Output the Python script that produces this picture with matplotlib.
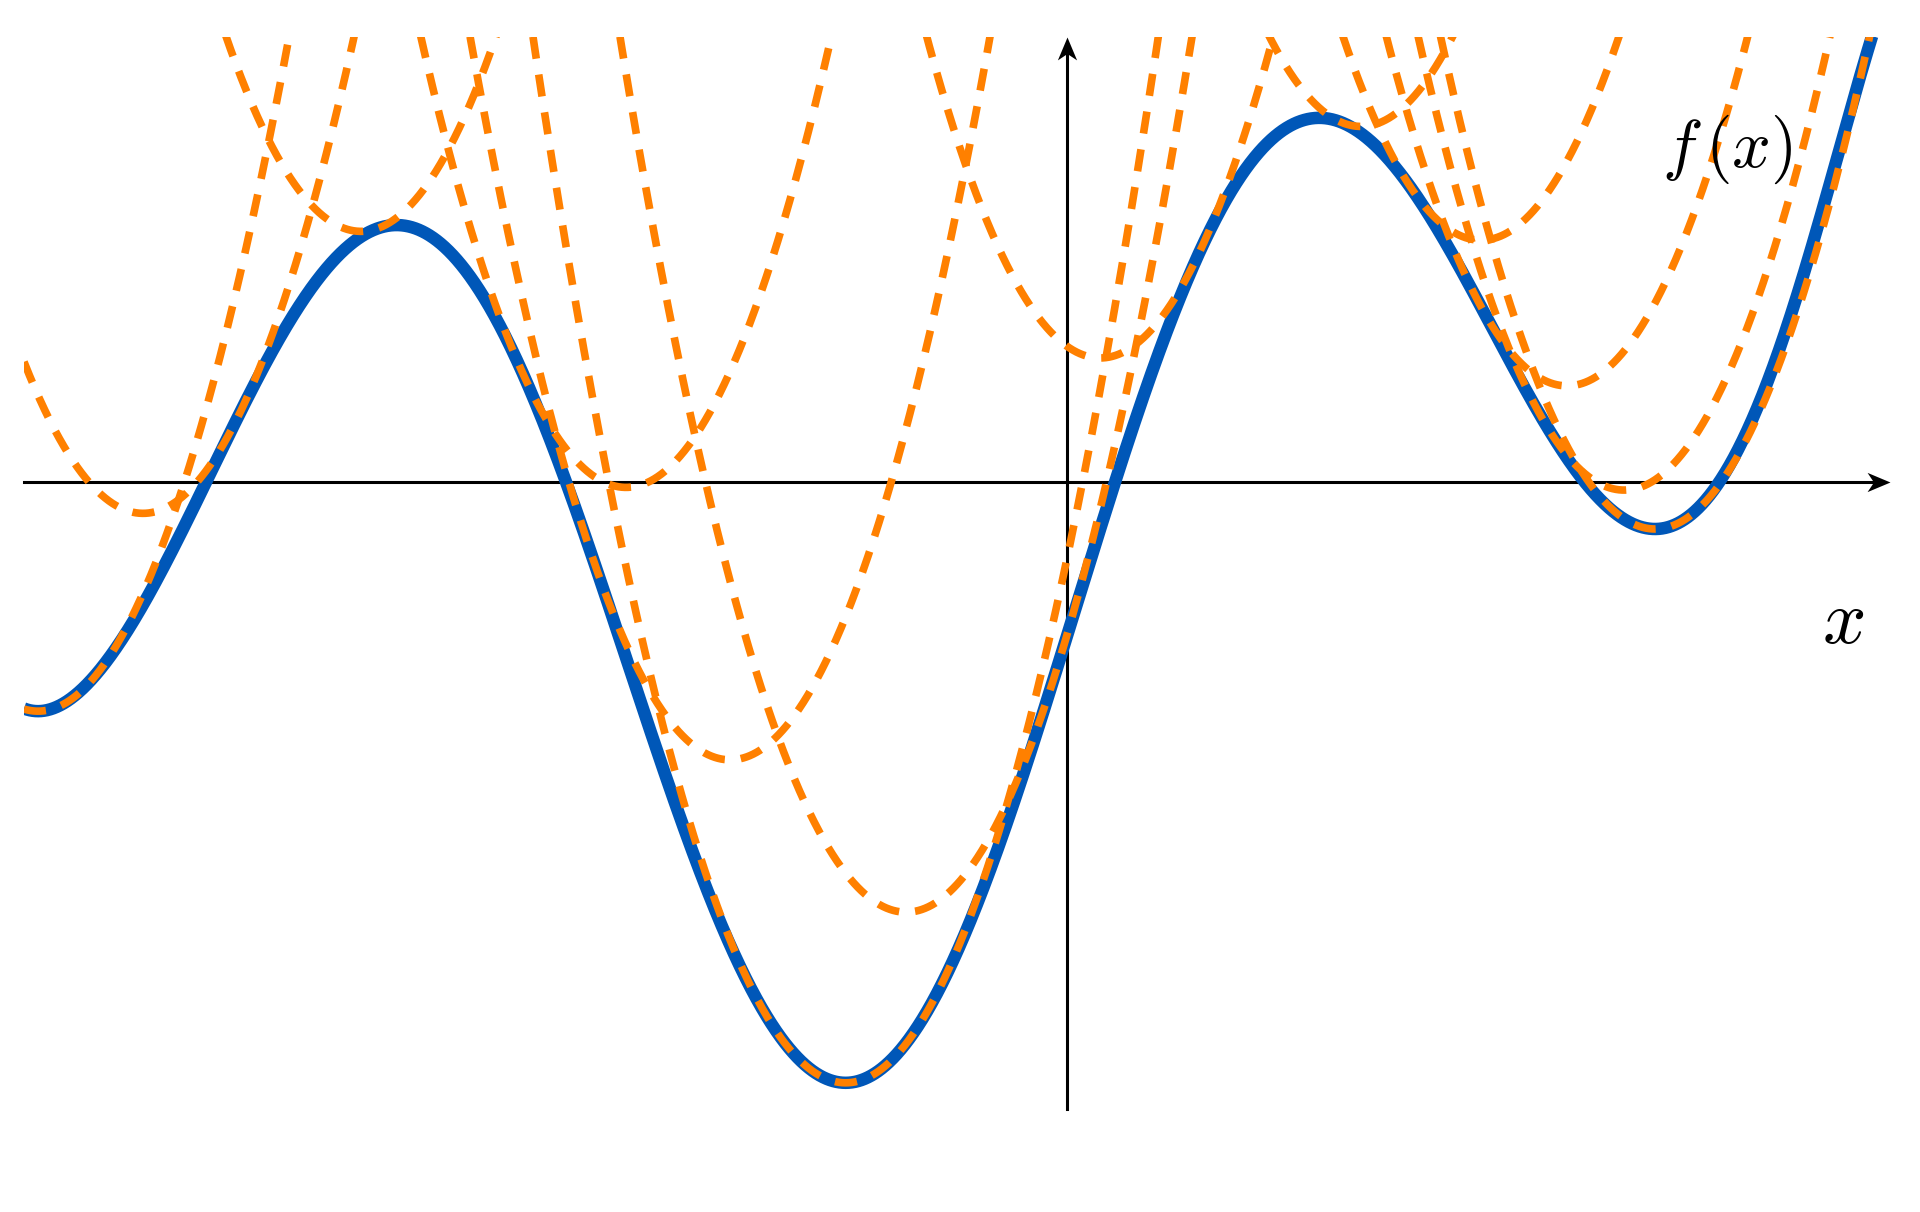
import numpy as np
import matplotlib.pyplot as plt
from matplotlib.patches import Rectangle
from matplotlib.path import Path

# === values (1 unit = 100 px, origin where the axes cross) ===
# points on the blue curve f(x)
blue_x = [-10.29, -9.39, -8.565, -7.93, -7.354, -6.716, -6.08, -5.57, -4.994, -4.55,
          -4.04, -3.53, -3.02, -2.22, -1.423, -0.785, -0.194, 0.0, 0.475, 1.08,
          1.719, 2.516, 3.313, 3.95, 4.589, 5.163, 5.877, 6.534, 7.14, 7.65, 8.096]
blue_y = [-2.29, -1.53, 0.0, 1.215, 2.11, 2.567, 2.236, 1.41, 0.0, -1.144,
          -2.61, -4.01, -5.226, -6.023, -5.48, -3.823, -2.049, -1.54, 0.0, 1.714,
          2.99, 3.627, 3.244, 2.415, 1.331, 0.12, -0.486, 0.0, 1.65, 3.053, 4.456]
# x of the minima / maxima of f (flat there)
ext_x = [-10.29, -6.716, -2.22, 2.516, 5.877]
# slope of f where it leaves the top of the frame
end_x, end_slope = 8.096, 3.15

# curvature of the dashed quadratic bounds
L = 2.14

# dashed parabolas: x of each vertex, and the stretch of f where each one touches
vert_x = [-10.29, -9.24, -7.06, -4.41, -3.37, -2.22, -1.61, 0.33, 2.94, 4.14, 5.00, 5.57, 5.877]
touch_lo = [-10.29, -9.20, -7.05, -6.716, -6.716, -2.22, -1.61, 0.33, 2.516, 2.516, 2.516, 2.516, 5.877]
touch_hi = [-10.29, -7.00, -6.716, -4.41, -3.37, -2.22, 2.516, 2.516, 2.94, 4.14, 5.00, 5.57, 5.877]

# === smooth polynomial through the read points, flat at the extrema ===
deg = 12
c0, s0 = -1.1, 9.6          # scale x to about [-1, 1] for a well-behaved fit


def basis(x, der=False):
    t = (np.asarray(x, float) - c0) / s0
    cols = []
    for k in range(deg + 1):
        if der:
            cols.append(k * t ** max(k - 1, 0) / s0 if k else np.zeros_like(t))
        else:
            cols.append(t ** k)
    return np.stack(cols, axis=-1)


wv = np.where(np.isin(blue_x, ext_x), 6.0, 1.0)
A = np.vstack([basis(blue_x) * wv[:, None], 6.0 * basis(ext_x, der=True),
               2.0 * basis([end_x], der=True)])
b = np.concatenate([np.array(blue_y) * wv, np.zeros(len(ext_x)), [2.0 * end_slope]])
coef = np.linalg.lstsq(A, b, rcond=None)[0]


def f_and_df(x):
    return basis(x) @ coef, basis(x, der=True) @ coef


x_left, x_right, y_top = -10.43, 8.6, 4.45
xs = np.linspace(x_left, x_right, 6000)
fx, _ = f_and_df(xs)
# the blue curve stops where it leaves the top of the frame
past = np.nonzero((xs > ext_x[-1]) & (fx >= y_top))[0]
end = past[0] + 1 if len(past) else len(xs)

# === figure ===
plt.rcParams['mathtext.fontset'] = 'cm'
fig = plt.figure(figsize=(19.2, 12.12), dpi=100)
ax = fig.add_axes([0, 0, 1, 1])
ax.set_xlim(-10.67, 8.53)
ax.set_ylim(-7.30, 4.82)
ax.axis('off')

clip = Rectangle((x_left, -7.3), x_right - x_left, y_top + 7.3, transform=ax.transData)

# axes with stealth arrow heads
head = [(0, 0), (-1, 0.42), (-0.72, 0), (-1, -0.42), (0, 0)]
head_r = Path(head, [Path.MOVETO, Path.LINETO, Path.LINETO, Path.LINETO, Path.CLOSEPOLY])
head_u = Path([(-y, x) for x, y in head], head_r.codes)
ax.plot([x_left, 8.13], [0, 0], color='black', lw=2.2, zorder=1)
ax.plot([0, 0], [-6.27, 4.35], color='black', lw=2.2, zorder=1)
ax.plot(8.23, 0, marker=head_r, markersize=33, color='black', mew=0, zorder=1)
ax.plot(0, 4.45, marker=head_u, markersize=33, color='black', mew=0, zorder=1)

line, = ax.plot(xs[:end], fx[:end], color='#0057B8', lw=9, zorder=2, solid_capstyle='butt')
line.set_clip_path(clip)

for h, lo, hi in zip(vert_x, touch_lo, touch_hi):
    if lo == hi:
        a = lo
    else:
        grid = np.linspace(lo, hi, 4000)
        g = grid - f_and_df(grid)[1] / L - h
        a = grid[np.argmin(np.abs(g))]
    fa, dfa = f_and_df(a)
    q = fa + dfa * (xs - a) + 0.5 * L * (xs - a) ** 2
    ln, = ax.plot(xs, q, color='#FF8000', lw=5.5, ls=(0, (2.9, 2.1)), zorder=3)
    ln.set_clip_path(clip)

ax.text(6.60, 3.33, r'$f\,(x)$', fontsize=49, ha='center', va='center')
ax.text(7.76, -1.40, r'$x$', fontsize=55, ha='center', va='center')

fig.savefig('out.png', dpi=100)
